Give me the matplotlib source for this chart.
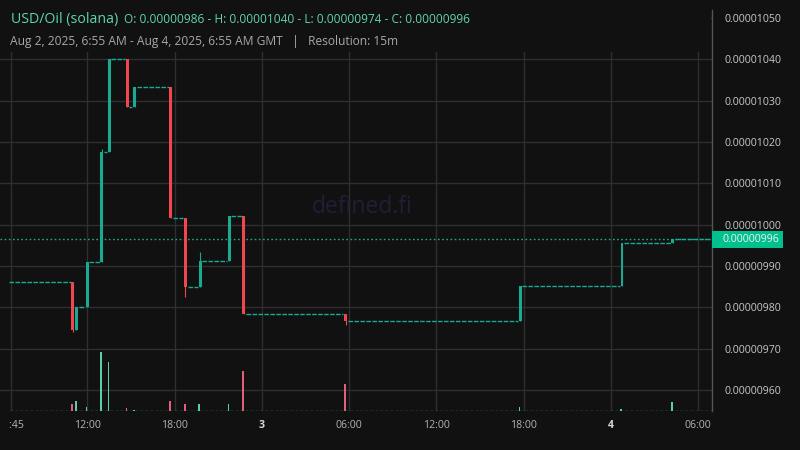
import matplotlib
matplotlib.use('Agg')
import matplotlib.pyplot as plt
import matplotlib.transforms as mtransforms
from matplotlib.patches import Rectangle
import numpy as np

plt.rcParams['font.family'] = ['Open Sans', 'DejaVu Sans']

# time: hours since Aug 2 2025 00:00 GMT, prices in units of 1e-8
candle_time = [11.00, 11.25, 12.00, 13.00, 13.50, 14.75, 15.25, 17.75,
               18.75, 19.75, 21.75, 22.75, 29.75, 41.75, 48.75, 52.25]
candle_open = [986.0, 974.6, 980.0, 991.0, 1017.6, 1040.0, 1028.5, 1033.2,
               1001.5, 985.0, 991.2, 1002.1, 978.3, 976.6, 985.2, 995.5]
candle_high = [986.0, 980.0, 991.0, 1018.3, 1040.0, 1040.0, 1033.2, 1033.2,
               1001.5, 993.4, 1002.1, 1002.1, 978.3, 985.2, 995.5, 996.4]
candle_low = [974.0, 974.6, 980.0, 991.0, 1017.6, 1028.5, 1028.5, 1001.5,
              982.6, 985.0, 991.2, 978.3, 975.7, 976.6, 985.2, 995.5]
candle_close = [974.6, 980.0, 991.0, 1017.6, 1040.0, 1028.5, 1033.2, 1001.5,
                985.0, 991.2, 1002.1, 978.3, 976.6, 985.2, 995.5, 996.4]
volume = [7, 10, 4, 59, 49, 3, 1.5, 10, 7, 7, 7, 40, 27, 4, 2, 9]

# runs of flat 15m candles (open = high = low = close)
flat_start = [6.75, 11.50, 12.25, 13.25, 13.75, 15.00, 15.50, 18.00,
              19.00, 20.00, 22.00, 23.00, 30.00, 42.00, 49.00, 52.50]
flat_end = [10.75, 11.75, 12.75, 13.25, 14.50, 15.00, 17.50, 18.50,
            19.50, 21.50, 22.50, 29.50, 41.50, 48.50, 52.00, 54.75]
flat_price = [986.0, 980.0, 991.0, 1017.6, 1040.0, 1028.5, 1033.2, 1001.5,
              985.0, 991.2, 1002.1, 978.3, 976.6, 985.2, 995.5, 996.4]

xtick_pos = [6.75, 12, 18, 24, 30, 36, 42, 48, 54]
xtick_lab = ['06:45', '12:00', '18:00', '3', '06:00', '12:00', '18:00', '4', '06:00']
ytick_pos = [960, 970, 980, 990, 1000, 1010, 1020, 1030, 1040, 1050]
last_price = 996.4

bg = '#111111'
up = '#1aaa92'
down = '#f0474f'
grid = '#2f2f2f'

fig = plt.figure(figsize=(8, 4.5), dpi=100, facecolor=bg)
ax = fig.add_axes([0.0, 0.0856, 0.8904, 0.8922])
ax.set_facecolor(bg)

t = np.array(candle_time)
o = np.array(candle_open)
c = np.array(candle_close)
cols = [up if cc >= oo else down for oo, cc in zip(o, c)]

ax.vlines(t, candle_low, candle_high, colors=cols, lw=0.8, zorder=3)
ax.bar(t, c - o, bottom=o, width=0.2, color=cols, zorder=4)
ax.hlines(flat_price, np.array(flat_start) - 0.1, np.array(flat_end) + 0.1,
          colors=up, lw=1.0, linestyles=(0, (3.3, 1.0)), zorder=3)
ax.axhline(last_price, color=up, lw=1.0, linestyle=(0, (1.2, 1.8)), zorder=2)

# volume on its own scale at the bottom
axv = ax.twinx()
axv.set_ylim(0, 401.5)
axv.set_yticks([])
for s in axv.spines.values():
    s.set_visible(False)
vcols = ['#5ccdaa' if cc >= oo else '#e2617a' for oo, cc in zip(o, c)]
axv.bar(t - 0.05, volume, width=0.12, color=vcols, zorder=3)
axv.axhline(0.8, xmin=10 / 712.3, color=up, lw=1.0, linestyle=(0, (2.0, 1.6)))

ax.set_xlim(6.0, 54.96)
ax.set_ylim(954.8, 1051.9)
ax.set_xticks(xtick_pos)
ax.set_xticklabels(xtick_lab)
ax.set_yticks(ytick_pos)
ax.set_yticklabels(['0.%08d' % v for v in ytick_pos])
ax.yaxis.tick_right()
ax.tick_params(axis='both', length=0, labelsize=7.6)
ax.tick_params(axis='y', pad=9, labelcolor='#c8c8c8')
ax.tick_params(axis='x', pad=6, labelcolor='#b4b4b4')
clip = mtransforms.TransformedBbox(mtransforms.Bbox([[9 / 800, 0], [1, 1]]), fig.transFigure)
for lab in ax.get_xticklabels():
    if lab.get_text() in ('3', '4'):
        lab.set_fontweight('bold')
        lab.set_color('#d8d8d8')
    lab.set_clip_box(clip)
    lab.set_clip_on(True)
ax.grid(True, color=grid, lw=1.0)
ax.set_axisbelow(True)
for s in ['top', 'left', 'bottom']:
    ax.spines[s].set_visible(False)
ax.spines['right'].set_color('#555555')
ax.spines['right'].set_linewidth(1.0)

# last price tag
trans = mtransforms.blended_transform_factory(ax.transAxes, ax.transData)
axv.add_patch(Rectangle((1.0, last_price - 2.05), 71 / 712.3, 4.1, transform=trans,
                        facecolor='#00c08e', edgecolor='none', clip_on=False, zorder=5))
axv.text(1.0 + 10 / 712.3, last_price, '0.%08d' % round(last_price), transform=trans,
         ha='left', va='center', fontsize=7.6, color='#f2f2f2', clip_on=False, zorder=6)

# watermark
fig.text(362 / 800, 1 - 207 / 450, 'defined.fi', ha='center', va='center',
         fontsize=16.5, color='#1f1f38')

# header box over the top of the chart
fig.add_artist(Rectangle((0, 1 - 52 / 450), 711 / 800, 52 / 450, transform=fig.transFigure,
                         facecolor=bg, edgecolor='none', zorder=2))
fig.text(11 / 800, 1 - 19 / 450, 'USD/Oil (solana)', ha='left', va='center',
         fontsize=10.2, color='#5fd4b2', zorder=3)
fig.text(124 / 800, 1 - 19.5 / 450,
         'O: 0.00000986 - H: 0.00001040 - L: 0.00000974 - C: 0.00000996',
         ha='left', va='center', fontsize=8.6, color='#5fd4b2', zorder=3)
fig.text(10 / 800, 1 - 41 / 450,
         'Aug 2, 2025, 6:55 AM - Aug 4, 2025, 6:55 AM GMT   |   Resolution: 15m',
         ha='left', va='center', fontsize=8.65, color='#a8a8a8', zorder=3)

fig.savefig('out.png', dpi=100, facecolor=bg)
